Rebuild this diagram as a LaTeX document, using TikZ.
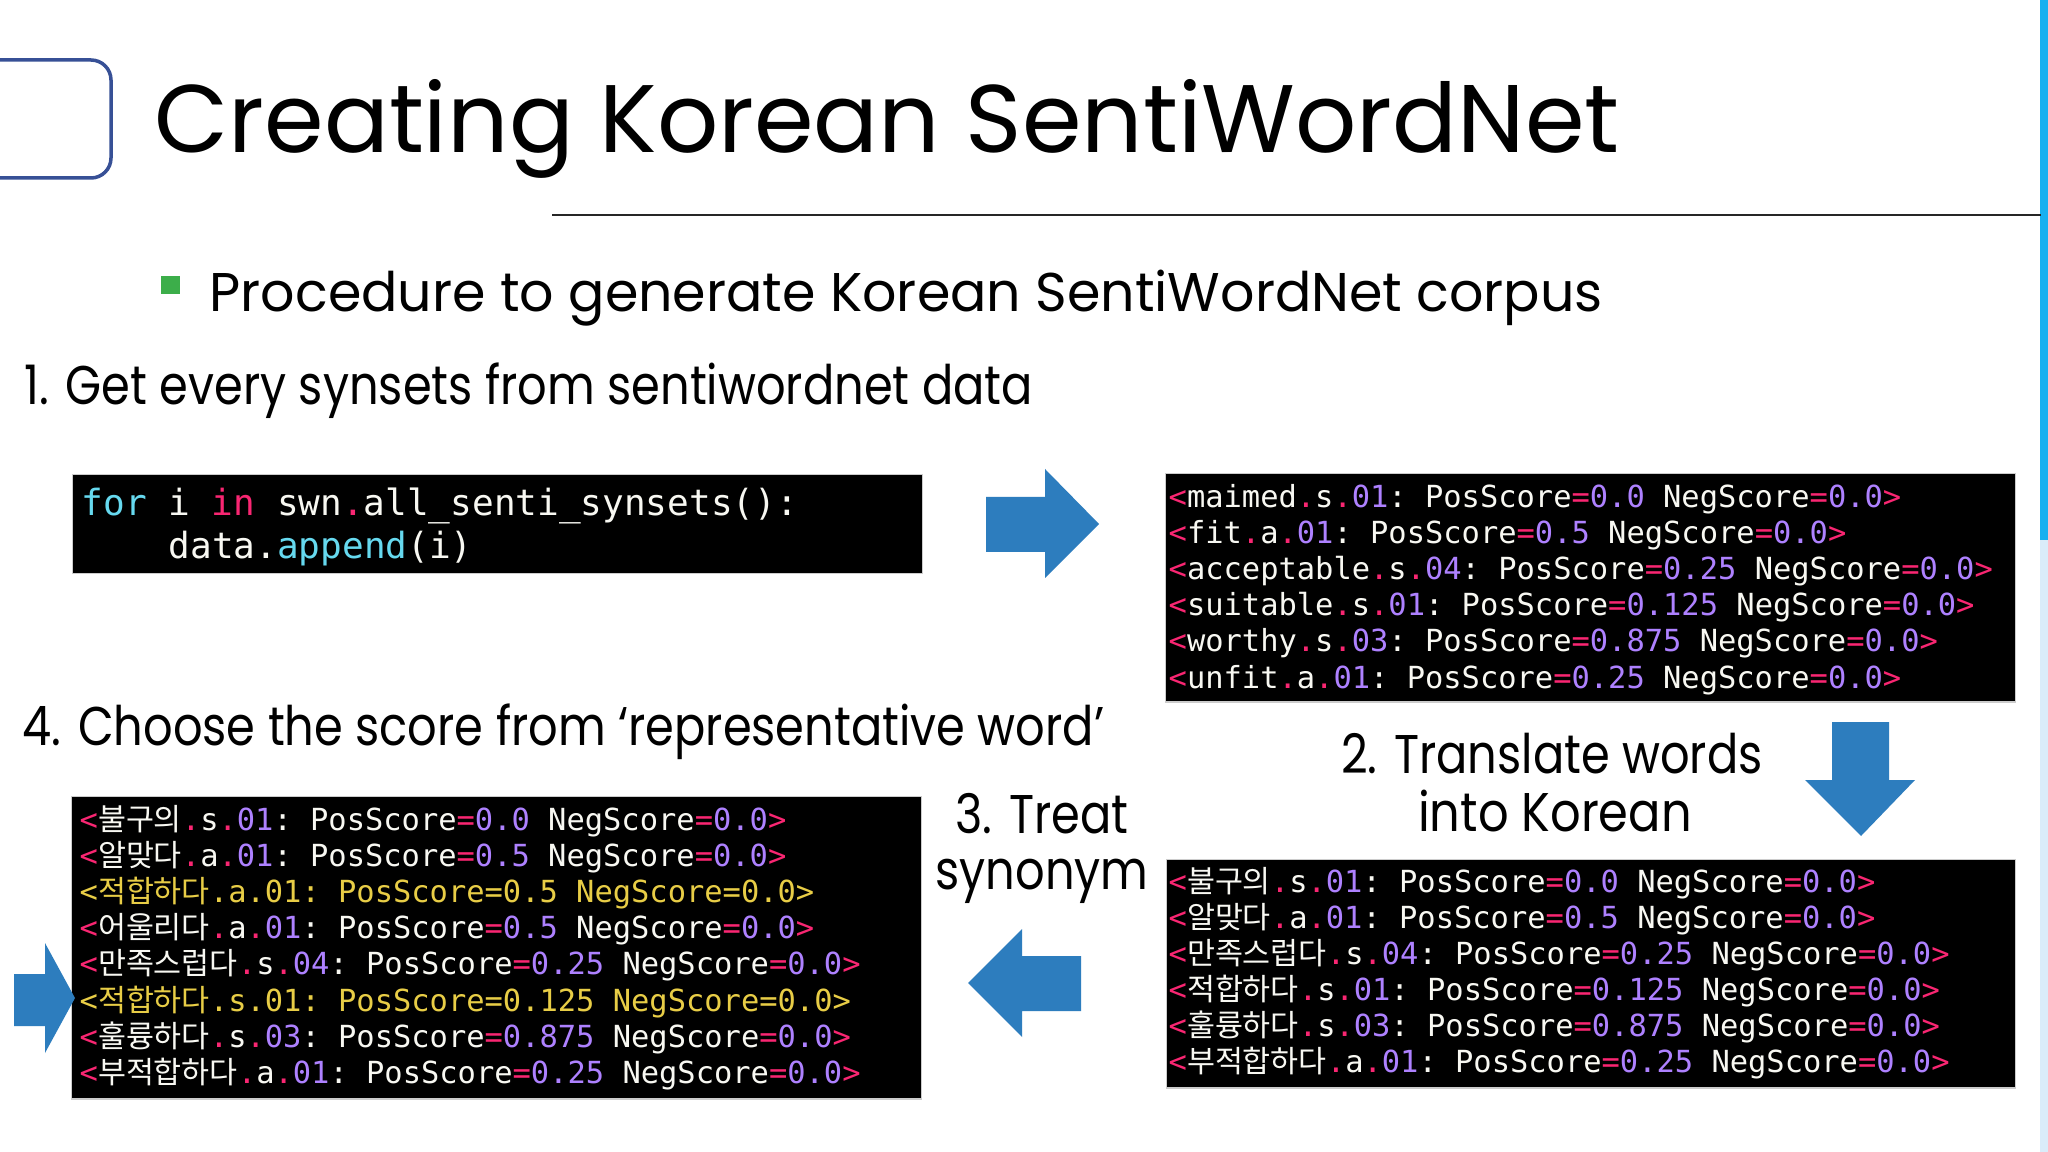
\documentclass[tikz,border=0pt]{standalone}
\usepackage{fontspec}
\setmainfont{Poppins}
\setmonofont{DejaVu Sans Mono}
\newfontfamily\krfont{Noto Sans CJK KR}
\definecolor{mkpink}{RGB}{249,38,114}
\definecolor{mkpurple}{RGB}{174,129,255}
\definecolor{mkcyan}{RGB}{102,217,239}
\definecolor{mkyellow}{RGB}{232,205,70}
\definecolor{mkwhite}{RGB}{248,248,242}
\definecolor{arrowblue}{RGB}{45,125,190}
\definecolor{framblue}{RGB}{55,80,150}
\definecolor{bulletgreen}{RGB}{60,174,74}
\definecolor{stripblue}{RGB}{24,176,240}
\definecolor{palestrip}{RGB}{218,236,250}
\newcommand{\krw}[1]{{\krfont #1}}
\newcommand{\titlesize}{\fontsize{27.3pt}{32pt}\selectfont}
\newcommand{\bodysize}{\fontsize{15.5pt}{19pt}\selectfont}
\newcommand{\codebig}{\fontsize{10.25pt}{12pt}\selectfont\ttfamily}
\newcommand{\codesmall}{\fontsize{8.65pt}{10pt}\selectfont\ttfamily}
\newcommand{\narrow}[1]{\scalebox{0.85}[1]{#1}}
\newcommand{\swnline}[5]{\textcolor{mkpink}{<}#1\textcolor{mkpink}{.}#2\textcolor{mkpink}{.}\textcolor{mkpurple}{#3}: PosScore\textcolor{mkpink}{=}\textcolor{mkpurple}{#4} NegScore\textcolor{mkpink}{=}\textcolor{mkpurple}{#5}\textcolor{mkpink}{>}}
\newcommand{\swnhl}[5]{\textcolor{mkyellow}{<#1.#2.#3: PosScore=#4 NegScore=#5>}}
\tikzset{
  txt/.style={inner sep=0pt, anchor=base west, font=\bodysize},
  ctxt/.style={inner sep=0pt, anchor=base, font=\bodysize},
  codebox/.style={fill=black, draw=gray!40, line width=0.4pt, inner sep=0pt, anchor=north west},
  codeline/.style={inner sep=0pt, anchor=base west, text=mkwhite, font=\codesmall},
  blockarrow/.style={fill=arrowblue}
}
\begin{document}
\begin{tikzpicture}[x=0.01cm,y=-0.01cm]
\useasboundingbox (0,0) rectangle (2048,1152);
\fill[white] (0,0) rectangle (2048,1152);
% right strip
\fill[stripblue] (2040,0) rectangle (2048,540);
\fill[palestrip] (2040,540) rectangle (2048,1152);
% top-left frame
\draw[framblue, line width=0.035cm, fill=white, rounded corners=0.2cm] (-30,60) rectangle (111,178);
% title
\node[txt, font=\titlesize] (title) at (154,153) {Creating Korean SentiWordNet};
\draw[black!85, line width=0.02cm] (552,215) -- (2041,215);
% bullet
\fill[bulletgreen] (161,276) rectangle (180,294);
\node[txt] (proc) at (209,312) {\scalebox{0.988}[1]{Procedure to generate Korean SentiWordNet corpus}};
\node[txt] (s1) at (24,405) {\narrow{1. Get every synsets from sentiwordnet data}};
\node[txt] (s4) at (22,745) {\narrow{4. Choose the score from ‘representative word’}};
\node[ctxt] (s2a) at (1552,773) {\narrow{2. Translate words}};
\node[ctxt] (s2b) at (1555,831) {\scalebox{0.88}[1]{into Korean}};
\node[ctxt] (s3a) at (1042,833) {\narrow{3. Treat}};
\node[ctxt] (s3b) at (1042,889) {\narrow{synonym}};
% box 1
\node[codebox, minimum width=8.49cm, minimum height=0.99cm] (box1) at (72,474) {};
\node[codeline, font=\codebig] (c1a) at (81,515) {\textcolor{mkcyan}{for} i \textcolor{mkpink}{in} swn\textcolor{mkpink}{.}all\_senti\_synsets():};
\node[codeline, font=\codebig] (c1b) at (168,559) {data.\textcolor{mkcyan}{append}(i)};
% box 2
\node[codebox, minimum width=8.49cm, minimum height=2.28cm] (box2) at (1165,473) {};
\node[codeline] (e1) at (1168,508) {\swnline{maimed}{s}{01}{0.0}{0.0}};
\node[codeline] (e2) at (1168,544) {\swnline{fit}{a}{01}{0.5}{0.0}};
\node[codeline] (e3) at (1168,580) {\swnline{acceptable}{s}{04}{0.25}{0.0}};
\node[codeline] (e4) at (1168,616) {\swnline{suitable}{s}{01}{0.125}{0.0}};
\node[codeline] (e5) at (1168,652) {\swnline{worthy}{s}{03}{0.875}{0.0}};
\node[codeline] (e6) at (1168,688) {\swnline{unfit}{a}{01}{0.25}{0.0}};
% box 3
\node[codebox, minimum width=8.48cm, minimum height=2.28cm] (box3) at (1166,859) {};
\node[codeline] (k1) at (1168,892.5) {\swnline{\krw{불구의}}{s}{01}{0.0}{0.0}};
\node[codeline] (k2) at (1168,928.5) {\swnline{\krw{알맞다}}{a}{01}{0.5}{0.0}};
\node[codeline] (k3) at (1168,964.5) {\swnline{\krw{만족스럽다}}{s}{04}{0.25}{0.0}};
\node[codeline] (k4) at (1168,1000.5) {\swnline{\krw{적합하다}}{s}{01}{0.125}{0.0}};
\node[codeline] (k5) at (1168,1036.5) {\swnline{\krw{훌륭하다}}{s}{03}{0.875}{0.0}};
\node[codeline] (k6) at (1168,1072.5) {\swnline{\krw{부적합하다}}{a}{01}{0.25}{0.0}};
% box 4
\node[codebox, minimum width=8.49cm, minimum height=3.02cm] (box4) at (71,796) {};
\node[codeline] (r1) at (79,830.0) {\swnline{\krw{불구의}}{s}{01}{0.0}{0.0}};
\node[codeline] (r2) at (79,866.2) {\swnline{\krw{알맞다}}{a}{01}{0.5}{0.0}};
\node[codeline] (r3) at (79,902.4) {\swnhl{\krw{적합하다}}{a}{01}{0.5}{0.0}};
\node[codeline] (r4) at (79,938.6) {\swnline{\krw{어울리다}}{a}{01}{0.5}{0.0}};
\node[codeline] (r5) at (79,974.8) {\swnline{\krw{만족스럽다}}{s}{04}{0.25}{0.0}};
\node[codeline] (r6) at (79,1011.0) {\swnhl{\krw{적합하다}}{s}{01}{0.125}{0.0}};
\node[codeline] (r7) at (79,1047.2) {\swnline{\krw{훌륭하다}}{s}{03}{0.875}{0.0}};
\node[codeline] (r8) at (79,1083.4) {\swnline{\krw{부적합하다}}{a}{01}{0.25}{0.0}};
% block arrows
\fill[blockarrow] (986,497) -- (1045,497) -- (1045,469) -- (1099,524) -- (1045,578) -- (1045,552) -- (986,552) -- cycle;
\fill[blockarrow] (1832,722) -- (1889,722) -- (1889,780) -- (1915,780) -- (1861,836) -- (1805,780) -- (1832,780) -- cycle;
\fill[blockarrow] (1081,956) -- (1022,956) -- (1022,929) -- (968,983) -- (1022,1037) -- (1022,1011) -- (1081,1011) -- cycle;
\fill[blockarrow] (14,974) -- (45,974) -- (45,943) -- (75,998) -- (45,1053) -- (45,1026) -- (14,1026) -- cycle;
\end{tikzpicture}
\end{document}
